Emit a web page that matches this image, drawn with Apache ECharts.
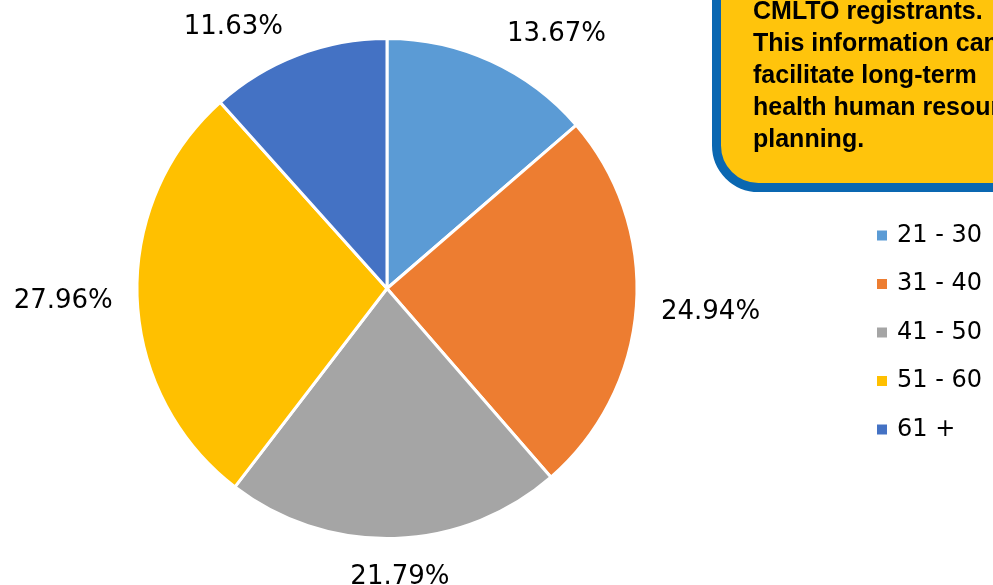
<!DOCTYPE html>
<html>
<head>
<meta charset="utf-8">
<script src="https://cdn.jsdelivr.net/npm/echarts@6/dist/echarts.min.js"></script>
<style>
  html, body { margin: 0; padding: 0; background: #ffffff; }
  #chart { width: 993px; height: 585px; }
</style>
</head>
<body>
<div id="chart"></div>
<script>
// Age groups of registrants and their share (%)
const ageGroups = ['21 - 30', '31 - 40', '41 - 50', '51 - 60', '61 +'];
const shares = [13.67, 24.94, 21.79, 27.96, 11.63];
const sliceColors = ['#5B9BD5', '#ED7D31', '#A5A5A5', '#FFC000', '#4472C4'];

// Callout note text (box runs past the top and right edges)
const noteLines = [
  'CMLTO registrants.',
  'This information can',
  'facilitate long-term',
  'health human resource',
  'planning.'
];

// Pie geometry
const CX = 387, CY = 288.5, R = 250;
// Label placement tweaks: angular shift (deg) and radial shift (px) per slice
const labelNudgeDeg = [9.1, 0, -0.8, 0, -9.5];
const labelRadialShift = [-7, 0, 0, 0, -7];
const labelGap = 24;

const total = shares.reduce((a, b) => a + b, 0);
const midAngles = [];
let acc = 0;
shares.forEach(v => {
  midAngles.push((acc + v / 2) / total * 360);
  acc += v;
});

const chart = echarts.init(document.getElementById('chart'), null, { renderer: 'canvas' });

chart.setOption({
  animation: false,
  backgroundColor: '#ffffff',
  color: sliceColors,
  legend: {
    orient: 'vertical',
    left: 877,
    top: 222.5,
    padding: 0,
    icon: 'rect',
    itemWidth: 10,
    itemHeight: 10,
    itemGap: 22.5,
    itemStyle: { borderWidth: 0 },
    textStyle: {
      fontFamily: 'DejaVu Sans, sans-serif',
      fontSize: 24,
      lineHeight: 26,
      color: '#000000',
      padding: [0, 0, 0, 5]
    },
    data: ageGroups
  },
  graphic: [
    {
      type: 'rect',
      z: 10,
      shape: { x: 716.5, y: -80, width: 420, height: 267.5, r: 42 },
      style: { fill: '#FFC40C', stroke: '#0A67B1', lineWidth: 9 }
    },
    {
      type: 'text',
      z: 11,
      x: 753,
      y: -4,
      style: {
        text: noteLines.join('\n'),
        fill: '#000000',
        font: 'bold 25px "Liberation Sans", Arial, sans-serif',
        lineHeight: 32,
        verticalAlign: 'top'
      }
    }
  ],
  series: [
    {
      type: 'pie',
      center: [CX, CY],
      radius: R,
      startAngle: 90,
      clockwise: true,
      itemStyle: { borderColor: '#ffffff', borderWidth: 3 },
      label: {
        show: true,
        position: 'outside',
        overflow: 'none',
        formatter: p => p.value.toFixed(2) + '%',
        fontFamily: 'DejaVu Sans, sans-serif',
        fontSize: 26,
        color: '#000000'
      },
      labelLine: { show: false },
      emphasis: { disabled: true },
      labelLayout: function (params) {
        const i = params.dataIndex;
        const w = params.labelRect.width;
        const h = params.labelRect.height;
        const a = (midAngles[i] + labelNudgeDeg[i]) * Math.PI / 180;
        const dx = Math.sin(a), dy = -Math.cos(a);
        const d = R + labelGap + labelRadialShift[i] + Math.abs(dx) * w / 2 + Math.abs(dy) * h / 2;
        return {
          x: CX + dx * d,
          y: CY + dy * d,
          align: 'center',
          verticalAlign: 'middle'
        };
      },
      data: ageGroups.map((name, i) => ({ name: name, value: shares[i] }))
    }
  ]
});
</script>
</body>
</html>
